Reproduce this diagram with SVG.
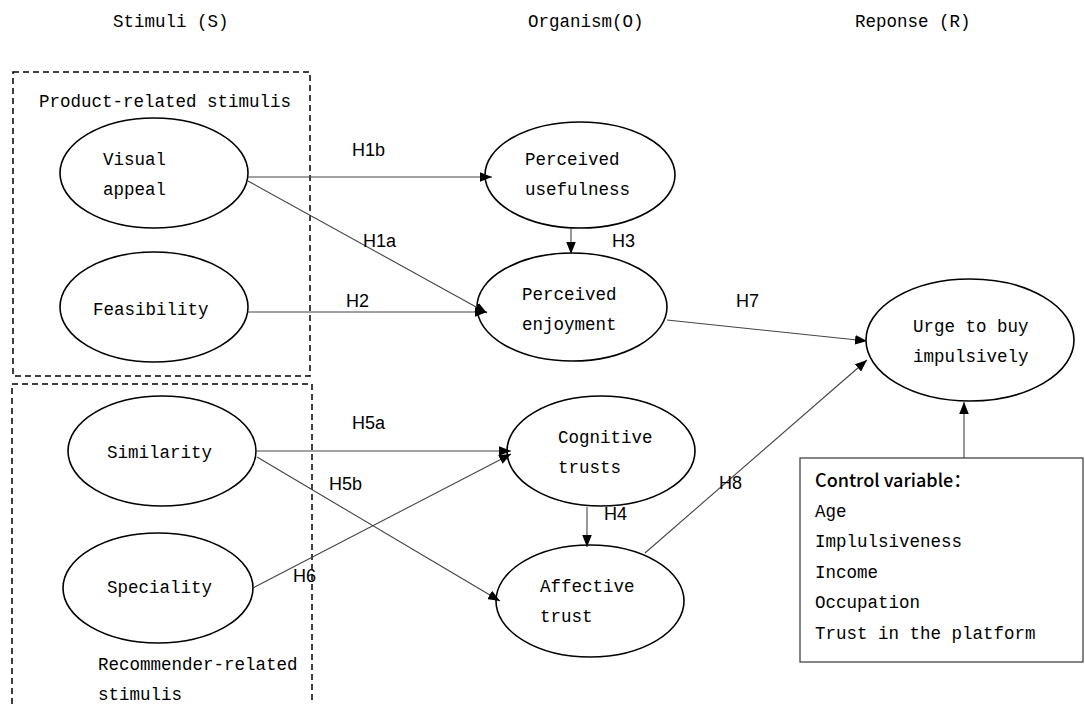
<svg xmlns="http://www.w3.org/2000/svg" width="1085" height="704" viewBox="0 0 1085 704">
<defs>
<marker id="arr" viewBox="0 0 10 8" refX="10" refY="4" markerWidth="12" markerHeight="10" markerUnits="userSpaceOnUse" orient="auto">
<path d="M0,0 L10,4 L0,8 Z" fill="#000"/>
</marker>
</defs>
<style>
.m{font-family:"Liberation Mono","DejaVu Sans Mono",monospace;font-size:17.5px;fill:#000}
.h{font-family:"Liberation Sans",Arial,sans-serif;font-size:18px;fill:#000}
.e{fill:#fff;stroke:#000;stroke-width:1.6}
.d{fill:none;stroke:#000;stroke-width:1.5;stroke-dasharray:6,4}
.c{fill:none;stroke:#444;stroke-width:1.1;marker-end:url(#arr)}
</style>
<rect width="1085" height="704" fill="#fff"/>
<g id="headers">
<text class="m" x="113" y="27">Stimuli (S)</text>
<text class="m" x="528" y="27">Organism(O)</text>
<text class="m" x="855" y="27">Reponse (R)</text>
</g>
<g id="product-group">
<rect class="d" x="13" y="72" width="297" height="304"/>
<text class="m" x="39" y="107">Product-related stimulis</text>
</g>
<g id="recommender-group">
<rect class="d" x="12" y="384" width="300" height="330"/>
<text class="m" x="98" y="670">Recommender-related</text>
<text class="m" x="98" y="700">stimulis</text>
</g>
<g id="visual-appeal">
<ellipse class="e" cx="154" cy="173" rx="94" ry="55"/>
<text class="m" x="103" y="165">Visual</text>
<text class="m" x="103" y="195">appeal</text>
</g>
<g id="feasibility">
<ellipse class="e" cx="154" cy="307" rx="94" ry="55"/>
<text class="m" x="93" y="315">Feasibility</text>
</g>
<g id="similarity">
<ellipse class="e" cx="162" cy="451" rx="94" ry="55"/>
<text class="m" x="107" y="458">Similarity</text>
</g>
<g id="speciality">
<ellipse class="e" cx="158" cy="588" rx="95" ry="55"/>
<text class="m" x="107" y="593">Speciality</text>
</g>
<g id="perceived-usefulness">
<ellipse class="e" cx="580" cy="175" rx="95" ry="53"/>
<text class="m" x="525" y="165">Perceived</text>
<text class="m" x="525" y="195">usefulness</text>
</g>
<g id="perceived-enjoyment">
<ellipse class="e" cx="572" cy="307" rx="95" ry="54"/>
<text class="m" x="522" y="300">Perceived</text>
<text class="m" x="522" y="330">enjoyment</text>
</g>
<g id="cognitive-trusts">
<ellipse class="e" cx="601" cy="451" rx="94" ry="55"/>
<text class="m" x="558" y="443">Cognitive</text>
<text class="m" x="558" y="473">trusts</text>
</g>
<g id="affective-trust">
<ellipse class="e" cx="590" cy="601" rx="94" ry="56"/>
<text class="m" x="540" y="592">Affective</text>
<text class="m" x="540" y="622">trust</text>
</g>
<g id="urge">
<ellipse class="e" cx="970" cy="340" rx="104" ry="61"/>
<text class="m" x="913" y="332">Urge to buy</text>
<text class="m" x="913" y="362">impulsively</text>
</g>
<g id="control-variables">
<rect x="800" y="458" width="283" height="204" fill="#fff" stroke="#333" stroke-width="1.2"/>
<text x="815" y="487" style="font-family:'Noto Sans CJK SC','Noto Sans',sans-serif;font-size:18px;font-weight:500;fill:#000">Control variable：</text>
<text class="m" x="815" y="517">Age</text>
<text class="m" x="815" y="547">Implulsiveness</text>
<text class="m" x="815" y="578">Income</text>
<text class="m" x="815" y="608">Occupation</text>
<text class="m" x="815" y="639">Trust in the platform</text>
</g>
<g id="connectors">
<line class="c" x1="248" y1="177" x2="492" y2="177"/>
<line class="c" x1="248" y1="181" x2="487" y2="313"/>
<line class="c" x1="248" y1="312" x2="487" y2="312"/>
<line class="c" x1="571" y1="228" x2="571" y2="254"/>
<line class="c" x1="667" y1="320" x2="867" y2="341"/>
<line class="c" x1="645" y1="553" x2="867" y2="360"/>
<line class="c" x1="257" y1="451" x2="511" y2="451"/>
<line class="c" x1="257" y1="457" x2="500" y2="601"/>
<line class="c" x1="253" y1="588" x2="511" y2="454"/>
<line class="c" x1="587" y1="507" x2="587" y2="547"/>
<line class="c" x1="964" y1="458" x2="964" y2="402"/>
<text class="h" x="352" y="156">H1b</text>
<text class="h" x="363" y="247">H1a</text>
<text class="h" x="346" y="307">H2</text>
<text class="h" x="612" y="247">H3</text>
<text class="h" x="736" y="307">H7</text>
<text class="h" x="352" y="429">H5a</text>
<text class="h" x="329" y="490">H5b</text>
<text class="h" x="293" y="582">H6</text>
<text class="h" x="604" y="520">H4</text>
<text class="h" x="719" y="489">H8</text>
</g>
</svg>
